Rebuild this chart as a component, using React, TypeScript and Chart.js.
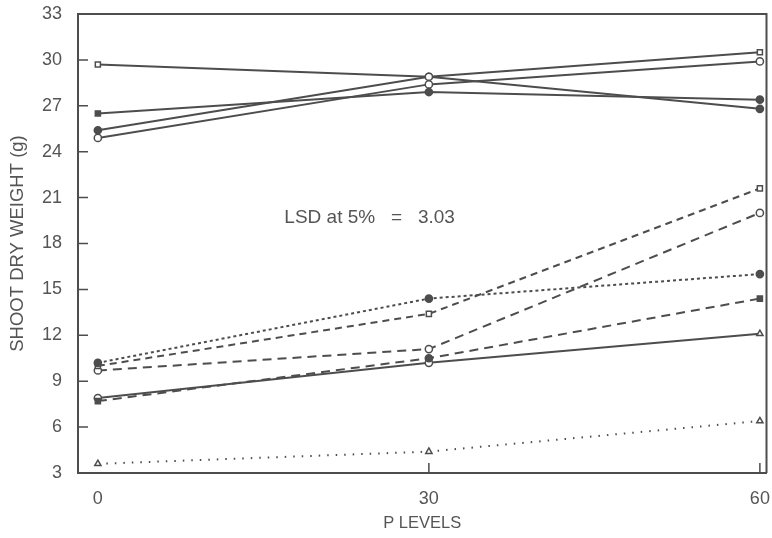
import React, { useEffect, useRef } from "react";
import { Chart, registerables } from "chart.js";

Chart.register(...registerables);

// P application levels (x axis)
const pLevels = [0, 30, 60];

// Upper group, solid lines
const solidOpenSquare = [29.7, 28.9, 26.8];
const solidFilledSquare = [26.5, 27.9, 27.4];
const solidFilledCircle = [25.4, 28.9, 30.5];
const solidOpenCircle = [24.9, 28.4, 29.9];

// Lower group
const dottedFilledCircle = [10.2, 14.4, 16.0];
const dashedOpenSquare = [10.0, 13.4, 21.6];
const dashedOpenCircle = [9.7, 11.1, 20.0];
const dashedFilledSquare = [7.7, 10.5, 14.4];
const solidTriangle = [7.9, 10.2, 12.1];
const dottedTriangle = [3.6, 4.4, 6.4];

const yTicks = [3, 6, 9, 12, 15, 18, 21, 24, 27, 30, 33];
const xTicks = [0, 30, 60];

const INK = "#4d4d4d";
const TEXT = "#555555";
const PAPER = "#ffffff";
const FONT = "'Liberation Sans', Arial, sans-serif";

const toPoints = (ys: number[]) => pLevels.map((x, i) => ({ x, y: ys[i] }));

function series(
  ys: number[],
  dash: number[],
  style: string | string[],
  fill: string | string[]
) {
  return {
    data: toPoints(ys),
    borderColor: INK,
    borderWidth: 2,
    borderDash: dash,
    pointStyle: style,
    pointRadius: 3.6,
    pointBorderWidth: 1.5,
    pointBorderColor: INK,
    pointBackgroundColor: fill,
    tension: 0,
    clip: false as const,
  };
}

// Frame on top/right, inward tick marks and the LSD note
const framePlugin = {
  id: "frame",
  afterDatasetsDraw(chart: any) {
    const { ctx, chartArea, scales } = chart;
    const { left, right, top, bottom } = chartArea;
    ctx.save();
    ctx.strokeStyle = INK;
    ctx.lineWidth = 2;
    ctx.beginPath();
    ctx.moveTo(left, top);
    ctx.lineTo(right, top);
    ctx.lineTo(right, bottom);
    ctx.stroke();

    ctx.lineWidth = 1.5;
    ctx.beginPath();
    for (const v of yTicks) {
      const y = scales.y.getPixelForValue(v);
      ctx.moveTo(left, y);
      ctx.lineTo(left + 10, y);
    }
    for (const v of xTicks.slice(1)) {
      const x = scales.x.getPixelForValue(v);
      ctx.moveTo(x, bottom);
      ctx.lineTo(x, bottom - 10);
    }
    ctx.stroke();

    ctx.fillStyle = TEXT;
    ctx.font = `19px ${FONT}`;
    ctx.textBaseline = "middle";
    ctx.textAlign = "left";
    ctx.fillText(
      "LSD at 5%   =   3.03",
      scales.x.getPixelForValue(16.9),
      scales.y.getPixelForValue(19.7)
    );
    ctx.restore();
  },
};

export default function App() {
  const canvasRef = useRef<HTMLCanvasElement | null>(null);

  useEffect(() => {
    document.body.style.margin = "0";
    const canvas = canvasRef.current;
    if (!canvas) return;

    const chart = new Chart(canvas, {
      type: "line",
      data: {
        datasets: [
          series(solidOpenSquare, [], ["rect", "circle", "circle"], [PAPER, PAPER, INK]),
          series(solidFilledSquare, [], ["rect", "circle", "circle"], INK),
          series(solidFilledCircle, [], ["circle", "circle", "rect"], [INK, PAPER, PAPER]),
          series(solidOpenCircle, [], "circle", PAPER),
          series(dottedFilledCircle, [3, 3], "circle", INK),
          series(dashedOpenSquare, [7, 5], "rect", PAPER),
          series(dashedOpenCircle, [9, 6], "circle", PAPER),
          series(dashedFilledSquare, [9, 6], ["rect", "circle", "rect"], INK),
          series(solidTriangle, [], ["circle", "circle", "triangle"], PAPER),
          series(dottedTriangle, [1.5, 7], "triangle", PAPER),
        ],
      },
      options: {
        animation: false,
        responsive: false,
        layout: { padding: { top: 14, right: 4, left: 0, bottom: 0 } },
        plugins: {
          legend: { display: false },
          tooltip: { enabled: false },
        },
        scales: {
          x: {
            type: "linear",
            min: -1.8,
            max: 60.6,
            afterBuildTicks: (scale: any) => {
              scale.ticks = xTicks.map((v) => ({ value: v }));
            },
            afterFit: (scale: any) => {
              scale.height = 65;
              scale.paddingLeft = 0;
              scale.paddingRight = 0;
            },
            grid: { display: false, drawTicks: false },
            border: { display: true, color: INK, width: 2 },
            ticks: {
              color: TEXT,
              font: { family: FONT, size: 18 },
              padding: 15,
              maxRotation: 0,
              autoSkip: false,
            },
            title: {
              display: true,
              text: "P LEVELS",
              color: TEXT,
              font: { family: FONT, size: 16.5 },
              padding: { top: 0, bottom: 5 },
            },
          },
          y: {
            type: "linear",
            min: 3,
            max: 33,
            afterBuildTicks: (scale: any) => {
              scale.ticks = yTicks.map((v) => ({ value: v }));
            },
            afterFit: (scale: any) => {
              scale.width = 78;
              scale.paddingTop = 0;
              scale.paddingBottom = 0;
            },
            grid: { display: false, drawTicks: false },
            border: { display: true, color: INK, width: 2 },
            ticks: {
              color: TEXT,
              font: { family: FONT, size: 18 },
              padding: 16,
            },
            title: {
              display: true,
              text: "SHOOT DRY WEIGHT (g)",
              color: TEXT,
              font: { family: FONT, size: 18.5 },
              padding: { top: 7, bottom: 0 },
            },
          },
        },
      },
      plugins: [framePlugin],
    });

    return () => chart.destroy();
  }, []);

  return (
    <div style={{ position: "fixed", left: 0, top: 0, width: 772, height: 538, background: PAPER }}>
      <canvas ref={canvasRef} width={772} height={538} style={{ display: "block" }} />
    </div>
  );
}
